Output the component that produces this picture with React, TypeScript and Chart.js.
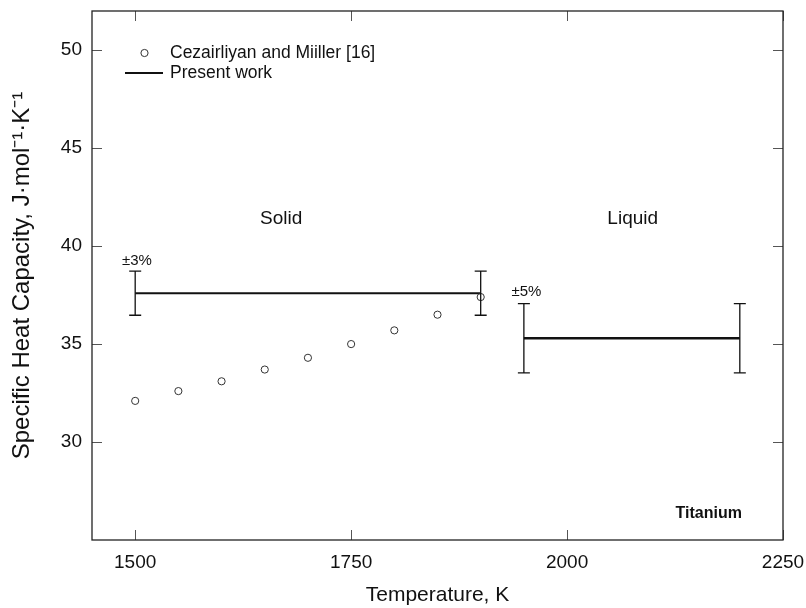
import React, { useEffect, useRef } from 'react';
import { Chart, registerables } from 'chart.js';

Chart.register(...registerables);

// ---- data ----
const litTemperature = [1500, 1550, 1600, 1650, 1700, 1750, 1800, 1850, 1900];
const litCp = [32.1, 32.6, 33.1, 33.7, 34.3, 35.0, 35.7, 36.5, 37.4];
const solidTemperature = [1500, 1900];
const solidCp = [37.6, 37.6];
const solidUncertaintyPct = 3;
const liquidTemperature = [1950, 2200];
const liquidCp = [35.3, 35.3];
const liquidUncertaintyPct = 5;
const xTicks = [1500, 1750, 2000, 2250];
const yTicks = [30, 35, 40, 45, 50];
const seriesLabels = ['Cezairliyan and Miiller [16]', 'Present work'];

const FONT = "'Liberation Sans', Arial, Helvetica, sans-serif";

const annotations = [
  { text: 'Solid', x: 1669, y: 41.4, size: 19, bold: false },
  { text: 'Liquid', x: 2076, y: 41.4, size: 19, bold: false },
  { text: '±3%', x: 1502, y: 39.27, size: 15, bold: false },
  { text: '±5%', x: 1953, y: 37.64, size: 15, bold: false },
  { text: 'Titanium', x: 2164, y: 26.36, size: 16, bold: true },
];

const noPad = (s: any) => {
  s.paddingLeft = 0;
  s.paddingRight = 0;
  s.paddingTop = 0;
  s.paddingBottom = 0;
};

const decorPlugin = {
  id: 'decor',
  afterDatasetsDraw(chart: any) {
    const { ctx, scales } = chart;
    const xs = scales.x;
    const ys = scales.y;
    ctx.save();
    const bars = (temps: number[], cps: number[], pct: number) => {
      ctx.strokeStyle = '#111';
      ctx.lineWidth = 1.3;
      ctx.beginPath();
      temps.forEach((t, i) => {
        const px = xs.getPixelForValue(t);
        const top = ys.getPixelForValue(cps[i] * (1 + pct / 100));
        const bot = ys.getPixelForValue(cps[i] * (1 - pct / 100));
        ctx.moveTo(px, top);
        ctx.lineTo(px, bot);
        ctx.moveTo(px - 6, top);
        ctx.lineTo(px + 6, top);
        ctx.moveTo(px - 6, bot);
        ctx.lineTo(px + 6, bot);
      });
      ctx.stroke();
    };
    bars(solidTemperature, solidCp, solidUncertaintyPct);
    bars(liquidTemperature, liquidCp, liquidUncertaintyPct);

    ctx.fillStyle = '#111';
    ctx.textAlign = 'center';
    ctx.textBaseline = 'middle';
    annotations.forEach((a) => {
      ctx.font = `${a.bold ? 'bold ' : ''}${a.size}px ${FONT}`;
      ctx.fillText(a.text, xs.getPixelForValue(a.x), ys.getPixelForValue(a.y));
    });
    ctx.restore();
  },
  afterDraw(chart: any) {
    const { ctx, chartArea: a, scales } = chart;
    const xs = scales.x;
    const ys = scales.y;
    ctx.save();
    // inward ticks on all sides
    ctx.strokeStyle = '#555';
    ctx.lineWidth = 1;
    ctx.beginPath();
    xTicks.forEach((v) => {
      const px = Math.round(xs.getPixelForValue(v)) + 0.5;
      ctx.moveTo(px, a.bottom);
      ctx.lineTo(px, a.bottom - 10);
      ctx.moveTo(px, a.top);
      ctx.lineTo(px, a.top + 10);
    });
    yTicks.forEach((v) => {
      const py = Math.round(ys.getPixelForValue(v)) + 0.5;
      ctx.moveTo(a.left, py);
      ctx.lineTo(a.left + 10, py);
      ctx.moveTo(a.right, py);
      ctx.lineTo(a.right - 10, py);
    });
    ctx.stroke();
    // frame
    ctx.strokeStyle = '#222';
    ctx.lineWidth = 1.3;
    ctx.strokeRect(a.left, a.top, a.right - a.left, a.bottom - a.top);

    // legend
    const ds = chart.data.datasets;
    ctx.fillStyle = '#111';
    ctx.font = `17.5px ${FONT}`;
    ctx.textAlign = 'left';
    ctx.textBaseline = 'middle';
    const lx = a.left;
    const ly = a.top;
    ctx.strokeStyle = '#333';
    ctx.lineWidth = 1;
    ctx.beginPath();
    ctx.arc(lx + 52.5, ly + 42, 3.6, 0, Math.PI * 2);
    ctx.stroke();
    ctx.fillText(ds[0].label, lx + 78, ly + 42);
    ctx.strokeStyle = '#111';
    ctx.lineWidth = 2;
    ctx.beginPath();
    ctx.moveTo(lx + 33, ly + 62);
    ctx.lineTo(lx + 71, ly + 62);
    ctx.stroke();
    ctx.fillText(ds[1].label, lx + 78, ly + 62);
    ctx.restore();
  },
};

export default function App() {
  const ref = useRef<HTMLCanvasElement | null>(null);
  useEffect(() => {
    if (!ref.current) return;
    const chart = new Chart(ref.current, {
      type: 'scatter',
      data: {
        datasets: [
          {
            label: seriesLabels[0],
            data: litTemperature.map((t, i) => ({ x: t, y: litCp[i] })),
            showLine: false,
            pointStyle: 'circle',
            pointRadius: 3.6,
            pointBorderWidth: 1,
            pointBorderColor: '#333',
            pointBackgroundColor: 'rgba(0,0,0,0)',
          },
          {
            label: seriesLabels[1],
            data: solidTemperature.map((t, i) => ({ x: t, y: solidCp[i] })),
            showLine: true,
            borderColor: '#111',
            borderWidth: 2,
            pointRadius: 0,
          },
          {
            label: seriesLabels[1] + ' (liquid)',
            data: liquidTemperature.map((t, i) => ({ x: t, y: liquidCp[i] })),
            showLine: true,
            borderColor: '#111',
            borderWidth: 2.6,
            pointRadius: 0,
          },
        ],
      },
      options: {
        animation: false,
        responsive: false,
        devicePixelRatio: 1,
        layout: { padding: { top: 11, right: 23, left: 0, bottom: 0 } },
        plugins: { legend: { display: false }, tooltip: { enabled: false } },
        scales: {
          x: {
            type: 'linear',
            min: 1450,
            max: 2250,
            afterBuildTicks: (s: any) => {
              s.ticks = xTicks.map((v) => ({ value: v }));
            },
            afterFit: (s: any) => {
              s.height = 68;
              noPad(s);
            },
            grid: { display: false, drawTicks: false },
            border: { display: false },
            ticks: {
              padding: 11,
              font: { family: FONT, size: 19 },
              color: '#111',
              maxRotation: 0,
              autoSkip: false,
              callback: (v: any) => String(v),
            },
            title: {
              display: true,
              text: 'Temperature, K',
              font: { family: FONT, size: 21 },
              color: '#111',
              padding: { top: 0, bottom: 0 },
            },
          },
          y: {
            type: 'linear',
            min: 25,
            max: 52,
            afterBuildTicks: (s: any) => {
              s.ticks = yTicks.map((v) => ({ value: v }));
            },
            afterFit: (s: any) => {
              s.width = 92;
              noPad(s);
            },
            grid: { display: false, drawTicks: false },
            border: { display: false },
            ticks: {
              padding: 10,
              font: { family: FONT, size: 19 },
              color: '#111',
              autoSkip: false,
              callback: (v: any) => String(v),
            },
            title: {
              display: true,
              text: 'Specific Heat Capacity, J·mol⁻¹·K⁻¹',
              font: { family: FONT, size: 24 },
              color: '#111',
              padding: { top: 8, bottom: 0 },
            },
          },
        },
      },
      plugins: [decorPlugin],
    } as any);
    return () => chart.destroy();
  }, []);
  return (
    <div style={{ position: 'fixed', left: 0, top: 0, width: 806, height: 608, background: '#fff' }}>
      <canvas ref={ref} width={806} height={608} style={{ display: 'block' }} />
    </div>
  );
}
